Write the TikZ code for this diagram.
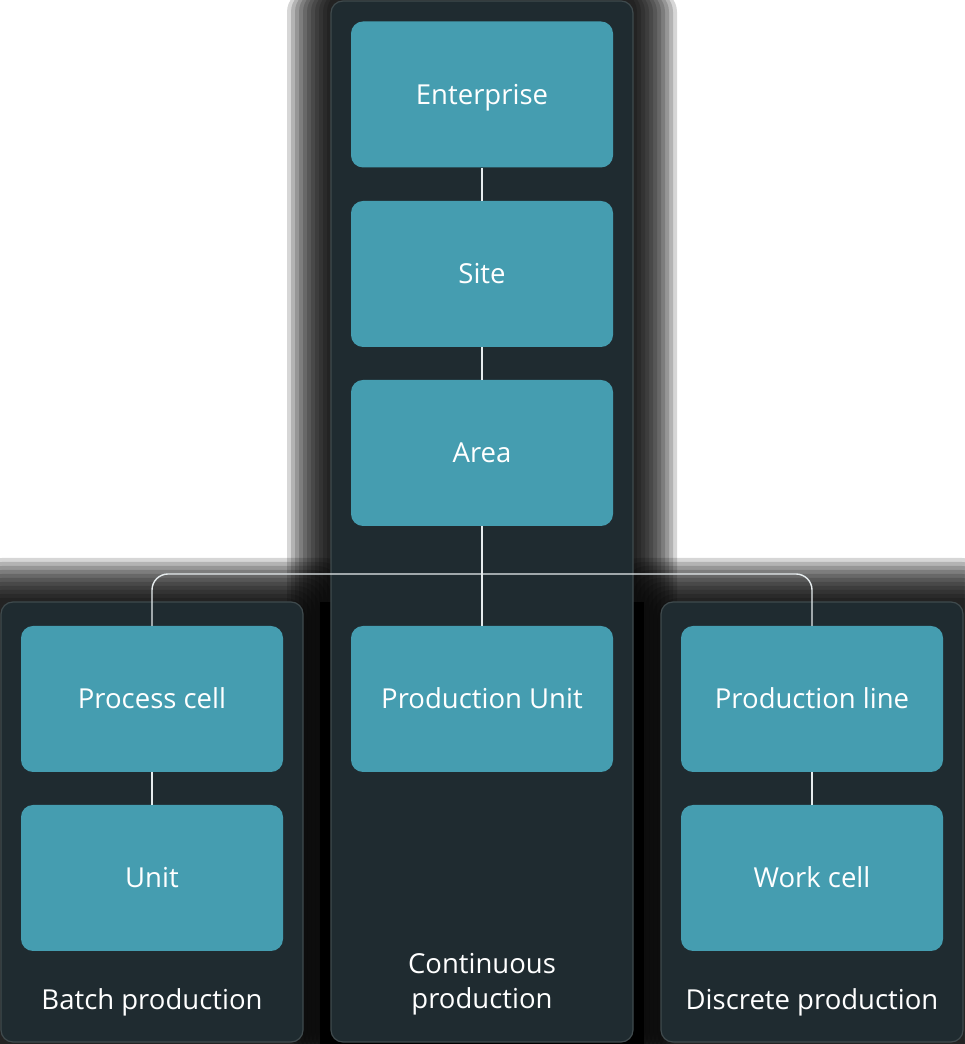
\documentclass[tikz,border=0pt]{standalone}
\usepackage{fontspec}
\setmainfont{Open Sans}
\definecolor{panelc}{HTML}{1F2B30}
\definecolor{panelb}{HTML}{3F4A4D}
\definecolor{boxc}{HTML}{459DB0}
\definecolor{linec}{HTML}{E6ECEE}
\tikzset{
  panel/.style={draw=panelb, line width=1.2pt, fill=panelc, rounded corners=12pt},
  unitbox/.style={fill=boxc, rounded corners=12pt, minimum width=262pt, minimum height=146pt, inner sep=0pt, text height=20pt, text depth=0pt, text=white, font=\fontsize{27.5}{32}\selectfont},
  paneltitle/.style={text=white, font=\fontsize{27.5}{35}\selectfont, align=center},
  conn/.style={draw=linec, line width=1.4pt}
}
\begin{document}
\begin{tikzpicture}[x=1pt,y=1pt]
\useasboundingbox (0,0) rectangle (964,1044);
\fill[white] (0,0) rectangle (964,1044);
% shadows
\foreach \m in {44,40,36,32,28,24,20,16,12,8,4}{
  \fill[black, opacity=0.16, rounded corners=22pt] (331-\m,-10) rectangle (633+\m,1054);
  \fill[black, opacity=0.16, rounded corners=22pt] (-20,-10) rectangle (303+\m,442+\m);
  \fill[black, opacity=0.16, rounded corners=22pt] (661-\m,-10) rectangle (984,442+\m);
}
\fill[black] (320,0) rectangle (644,442);
% panels
\draw[panel] (331,2) rectangle (633,1043);
\draw[panel] (1,2) rectangle (303,442);
\draw[panel] (661,2) rectangle (963,442);
% boxes
\node[unitbox] (ent) at (482,949.5) {Enterprise};
\node[unitbox] (site) at (482,770) {Site};
\node[unitbox] (area) at (482,591) {Area};
\node[unitbox] (pu) at (482,345) {Production Unit};
\node[unitbox] (pc) at (152,345) {Process cell};
\node[unitbox] (unit) at (152,166) {Unit};
\node[unitbox] (pl) at (812,345) {Production line};
\node[unitbox] (wc) at (812,166) {Work cell};
% titles
\node[paneltitle] (tb) at (152,42) {Batch production};
\node[paneltitle] (tc) at (482,60) {Continuous\\production};
\node[paneltitle] (td) at (812,42) {Discrete production};
% connectors
\coordinate (hub) at (482,470);
\draw[conn] (ent.south) -- (site.north);
\draw[conn] (site.south) -- (area.north);
\draw[conn] (area.south) -- (pu.north);
\draw[conn, rounded corners=16pt] (pc.north) |- (hub);
\draw[conn, rounded corners=16pt] (pl.north) |- (hub);
\draw[conn] (pc.south) -- (unit.north);
\draw[conn] (pl.south) -- (wc.north);
\end{tikzpicture}
\end{document}
